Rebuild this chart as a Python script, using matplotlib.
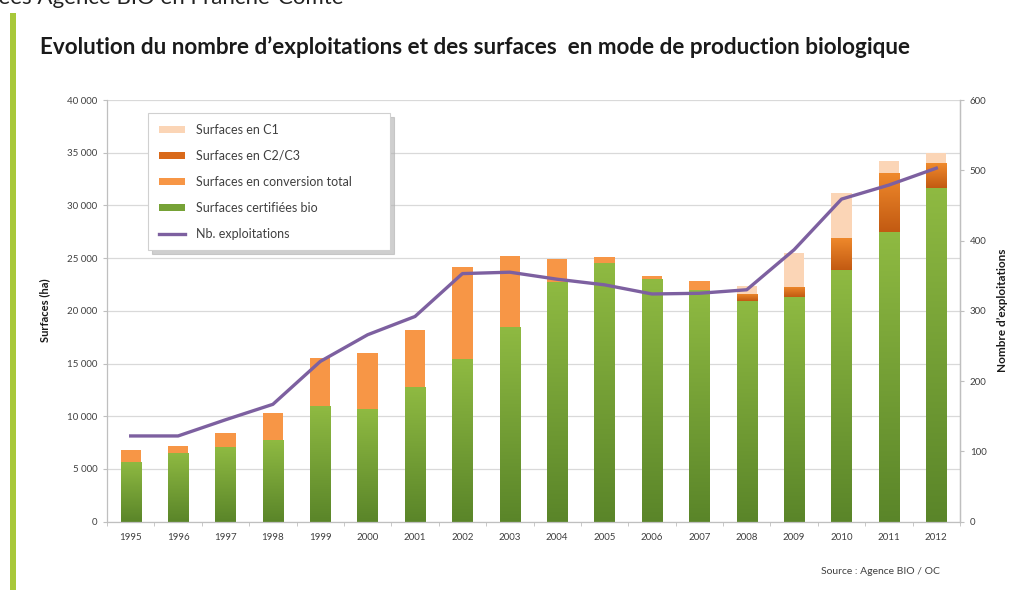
import numpy as np
import matplotlib
matplotlib.use("Agg")
import matplotlib.pyplot as plt
from matplotlib.colors import LinearSegmentedColormap
from matplotlib.patches import Rectangle, Patch
from matplotlib.lines import Line2D
from matplotlib.ticker import FuncFormatter, MultipleLocator

plt.rcParams['font.family'] = ['Lato', 'DejaVu Sans']

years = ['1995', '1996', '1997', '1998', '1999', '2000', '2001', '2002', '2003',
         '2004', '2005', '2006', '2007', '2008', '2009', '2010', '2011', '2012']
certifiees = [5700, 6550, 7050, 7750, 10950, 10650, 12800, 15400, 18500,
              22750, 24550, 23000, 21950, 20900, 21300, 23850, 27500, 31700]
conversion_total = [1100, 650, 1350, 2550, 4550, 5350, 5400, 8750, 6700,
                    2150, 550, 300, 850, 0, 0, 0, 0, 0]
c2c3 = [0, 0, 0, 0, 0, 0, 0, 0, 0, 0, 0, 0, 0, 700, 1000, 3050, 5600, 2350]
c1 = [0, 0, 0, 0, 0, 0, 0, 0, 0, 0, 0, 0, 0, 800, 3200, 4300, 1100, 950]
exploitations = [122, 122, 145, 167, 228, 266, 292, 353, 355,
                 345, 337, 324, 325, 330, 387, 459, 479, 503]

W, H = 1011, 590
fig = plt.figure(figsize=(W / 100, H / 100), dpi=100)
fig.patch.set_facecolor('white')

def fx(px):
    return px / W

def fy(py):
    return 1 - py / H

# decorative left bar and cut header text
fig.patches.append(Rectangle((fx(10), 0), fx(6), fy(13), transform=fig.transFigure,
                             facecolor='#a8c83a', edgecolor='none'))
fig.text(fx(-14), fy(4), "nées Agence BIO en Franche-Comté", fontsize=16,
         color='#222222', va='baseline', ha='left')

# title
fig.text(fx(40), fy(47), "Evolution du nombre d\u2019exploitations et des surfaces  en mode de production biologique",
         fontsize=16.2, fontweight='bold', color='#1a1a1a', va='center', ha='left')

ax = fig.add_axes([fx(107), fy(521.7), fx(960 - 107), (521.7 - 100) / H])
x = np.arange(len(years))
bw = 0.43

green = np.array(certifiees)
conv = np.array(conversion_total)
cc23 = np.array(c2c3)
cc1 = np.array(c1)

b_green = ax.bar(x, green, bw, color='#76a236', zorder=2, linewidth=0)
b_conv = ax.bar(x, conv, bw, bottom=green, color='#f79646', zorder=2, linewidth=0)
b_c23 = ax.bar(x, cc23, bw, bottom=green + conv, color='#e0731c', zorder=2, linewidth=0)
b_c1 = ax.bar(x, cc1, bw, bottom=green + conv + cc23, color='#fbd5b6', zorder=2, linewidth=0)

def gradient(bars, top, bottom):
    cmap = LinearSegmentedColormap.from_list('g', [bottom, top])
    grad = np.linspace(0, 1, 256).reshape(-1, 1)
    for b in bars:
        x0, y0 = b.get_xy()
        w, h = b.get_width(), b.get_height()
        if h <= 0:
            continue
        im = ax.imshow(grad, extent=[x0, x0 + w, y0, y0 + h], origin='lower',
                       cmap=cmap, aspect='auto', zorder=2.5, interpolation='bilinear')
        im.set_clip_path(b)

gradient(b_green, '#8fba42', '#5a8529')
gradient(b_c23, '#f08a2c', '#c25a12')

ax.set_xlim(-0.5, len(years) - 0.5)
ax.set_ylim(0, 40000)
ax.yaxis.set_major_locator(MultipleLocator(5000))
ax.yaxis.set_major_formatter(FuncFormatter(lambda v, p: f"{int(v):,}".replace(',', ' ')))
ax.grid(axis='y', color='#d9d9d9', linewidth=0.9, zorder=0)
ax.set_axisbelow(True)
ax.set_xticks(x)
ax.set_xticklabels(years)
ax.set_xticks(np.arange(-0.5, len(years), 1), minor=True)
ax.tick_params(axis='x', which='major', length=0, labelsize=7, colors='#404040', pad=8)
ax.tick_params(axis='x', which='minor', length=3, color='#bfbfbf')
ax.tick_params(axis='y', length=3, color='#bfbfbf', labelsize=7, labelcolor='#404040', pad=4)
for s in ['top']:
    ax.spines[s].set_visible(False)
for s in ['left', 'bottom', 'right']:
    ax.spines[s].set_color('#bfbfbf')
    ax.spines[s].set_linewidth(0.9)

ax2 = ax.twinx()
ax2.plot(x, exploitations, color='#7d60a0', linewidth=2.4, zorder=5, solid_joinstyle='round')
ax2.set_ylim(0, 600)
ax2.yaxis.set_major_locator(MultipleLocator(100))
ax2.tick_params(axis='y', length=3, color='#bfbfbf', labelsize=7, labelcolor='#404040', pad=4)
for s in ['top', 'left', 'bottom']:
    ax2.spines[s].set_visible(False)
ax2.spines['right'].set_color('#bfbfbf')
ax2.spines['right'].set_linewidth(0.9)

fig.text(fx(45), fy(310), "Surfaces (ha)", rotation=90, fontsize=8, fontweight='bold',
         color='#1a1a1a', ha='center', va='center')
fig.text(fx(1003), fy(310), "Nombre d\u2019exploitations", rotation=90, fontsize=8.5, fontweight='bold',
         color='#1a1a1a', ha='center', va='center')
fig.text(fx(940), fy(572), "Source : Agence BIO / OC", fontsize=7.5, color='#404040',
         ha='right', va='center')

handles = [Patch(facecolor='#fbd5b6', edgecolor='none'),
           Patch(facecolor='#d9691a', edgecolor='none'),
           Patch(facecolor='#f79646', edgecolor='none'),
           Patch(facecolor='#76a236', edgecolor='none'),
           Line2D([0], [0], color='#7d60a0', linewidth=2.4)]
labels = ['Surfaces en C1', 'Surfaces en C2/C3', 'Surfaces en conversion total',
          'Surfaces certifiées bio', 'Nb. exploitations']
leg = fig.legend(handles, labels, loc='upper left',
                 bbox_to_anchor=(fx(148), fy(253), fx(390 - 148), (253 - 113) / H),
                 mode='expand', fontsize=9, handlelength=2.1, handleheight=0.5,
                 handletextpad=0.9, labelspacing=1.12, borderpad=0.85, borderaxespad=0,
                 frameon=True, fancybox=False, shadow={'ox': 3, 'oy': -3, 'color': '#b0b0b0', 'alpha': 0.6})
leg.get_frame().set_edgecolor('#d0d0d0')
leg.get_frame().set_linewidth(0.8)
for t in leg.get_texts():
    t.set_color('#404040')

fig.savefig('out.png', dpi=100)
